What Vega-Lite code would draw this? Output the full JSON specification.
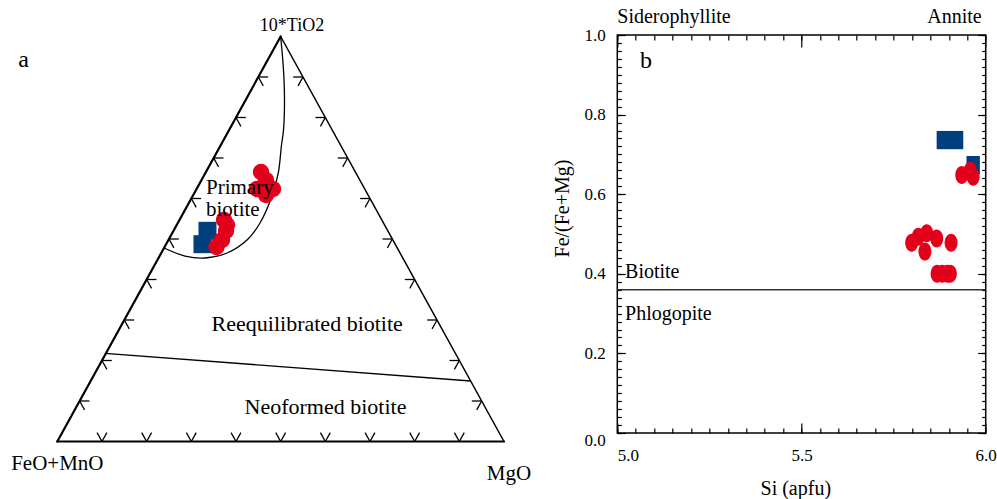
{
  "$schema": "https://vega.github.io/schema/vega-lite/v6.json",
  "background": "white",
  "padding": 0,
  "bounds": "flush",
  "spacing": 37.3,
  "config": {
    "font": "Liberation Serif, Times New Roman, DejaVu Serif, serif",
    "view": {"stroke": null},
    "text": {"font": "Liberation Serif, Times New Roman, DejaVu Serif, serif"},
    "axis": {
      "labelFont": "Liberation Serif, Times New Roman, DejaVu Serif, serif",
      "titleFont": "Liberation Serif, Times New Roman, DejaVu Serif, serif",
      "labelColor": "black",
      "titleColor": "black",
      "tickColor": "black",
      "tickWidth": 1.2,
      "domain": false,
      "grid": false,
      "titleFontWeight": "normal",
      "labelFontSize": 17,
      "titleFontSize": 20,
      "labelOverlap": false
    }
  },
  "datasets": {
    "edges": [
      {"side": "FeO+MnO-MgO", "x": 0, "y": 0, "x2": 1, "y2": 0},
      {"side": "FeO+MnO-TiO2", "x": 0, "y": 0, "x2": 0.5, "y2": 1},
      {"side": "MgO-TiO2", "x": 1, "y": 0, "x2": 0.5, "y2": 1}
    ],
    "edgeTicks": [
      {"x": 0.1, "y": 0, "x2": 0.089, "y2": 0.022}, {"x": 0.1, "y": 0, "x2": 0.111, "y2": 0.022},
      {"x": 0.2, "y": 0, "x2": 0.189, "y2": 0.022}, {"x": 0.2, "y": 0, "x2": 0.211, "y2": 0.022},
      {"x": 0.3, "y": 0, "x2": 0.289, "y2": 0.022}, {"x": 0.3, "y": 0, "x2": 0.311, "y2": 0.022},
      {"x": 0.4, "y": 0, "x2": 0.389, "y2": 0.022}, {"x": 0.4, "y": 0, "x2": 0.411, "y2": 0.022},
      {"x": 0.5, "y": 0, "x2": 0.489, "y2": 0.022}, {"x": 0.5, "y": 0, "x2": 0.511, "y2": 0.022},
      {"x": 0.6, "y": 0, "x2": 0.589, "y2": 0.022}, {"x": 0.6, "y": 0, "x2": 0.611, "y2": 0.022},
      {"x": 0.7, "y": 0, "x2": 0.689, "y2": 0.022}, {"x": 0.7, "y": 0, "x2": 0.711, "y2": 0.022},
      {"x": 0.8, "y": 0, "x2": 0.789, "y2": 0.022}, {"x": 0.8, "y": 0, "x2": 0.811, "y2": 0.022},
      {"x": 0.9, "y": 0, "x2": 0.889, "y2": 0.022}, {"x": 0.9, "y": 0, "x2": 0.911, "y2": 0.022},
      {"x": 0.05, "y": 0.1, "x2": 0.072, "y2": 0.1}, {"x": 0.05, "y": 0.1, "x2": 0.061, "y2": 0.078},
      {"x": 0.1, "y": 0.2, "x2": 0.122, "y2": 0.2}, {"x": 0.1, "y": 0.2, "x2": 0.111, "y2": 0.178},
      {"x": 0.15, "y": 0.3, "x2": 0.172, "y2": 0.3}, {"x": 0.15, "y": 0.3, "x2": 0.161, "y2": 0.278},
      {"x": 0.2, "y": 0.4, "x2": 0.222, "y2": 0.4}, {"x": 0.2, "y": 0.4, "x2": 0.211, "y2": 0.378},
      {"x": 0.25, "y": 0.5, "x2": 0.272, "y2": 0.5}, {"x": 0.25, "y": 0.5, "x2": 0.261, "y2": 0.478},
      {"x": 0.3, "y": 0.6, "x2": 0.322, "y2": 0.6}, {"x": 0.3, "y": 0.6, "x2": 0.311, "y2": 0.578},
      {"x": 0.35, "y": 0.7, "x2": 0.372, "y2": 0.7}, {"x": 0.35, "y": 0.7, "x2": 0.361, "y2": 0.678},
      {"x": 0.4, "y": 0.8, "x2": 0.422, "y2": 0.8}, {"x": 0.4, "y": 0.8, "x2": 0.411, "y2": 0.778},
      {"x": 0.45, "y": 0.9, "x2": 0.472, "y2": 0.9}, {"x": 0.45, "y": 0.9, "x2": 0.461, "y2": 0.878},
      {"x": 0.95, "y": 0.1, "x2": 0.928, "y2": 0.1}, {"x": 0.95, "y": 0.1, "x2": 0.939, "y2": 0.078},
      {"x": 0.9, "y": 0.2, "x2": 0.878, "y2": 0.2}, {"x": 0.9, "y": 0.2, "x2": 0.889, "y2": 0.178},
      {"x": 0.85, "y": 0.3, "x2": 0.828, "y2": 0.3}, {"x": 0.85, "y": 0.3, "x2": 0.839, "y2": 0.278},
      {"x": 0.8, "y": 0.4, "x2": 0.778, "y2": 0.4}, {"x": 0.8, "y": 0.4, "x2": 0.789, "y2": 0.378},
      {"x": 0.75, "y": 0.5, "x2": 0.728, "y2": 0.5}, {"x": 0.75, "y": 0.5, "x2": 0.739, "y2": 0.478},
      {"x": 0.7, "y": 0.6, "x2": 0.678, "y2": 0.6}, {"x": 0.7, "y": 0.6, "x2": 0.689, "y2": 0.578},
      {"x": 0.65, "y": 0.7, "x2": 0.628, "y2": 0.7}, {"x": 0.65, "y": 0.7, "x2": 0.639, "y2": 0.678},
      {"x": 0.6, "y": 0.8, "x2": 0.578, "y2": 0.8}, {"x": 0.6, "y": 0.8, "x2": 0.589, "y2": 0.778},
      {"x": 0.55, "y": 0.9, "x2": 0.528, "y2": 0.9}, {"x": 0.55, "y": 0.9, "x2": 0.539, "y2": 0.878}
    ],
    "divider": [
      {"x": 0.1068, "y": 0.2178, "x2": 0.9255, "y2": 0.1494}
    ],
    "primaryField": [
      {"i": 0, "x": 0.5, "y": 1.0},
      {"i": 1, "x": 0.5064, "y": 0.9173},
      {"i": 2, "x": 0.5086, "y": 0.8432},
      {"i": 3, "x": 0.5064, "y": 0.7691},
      {"i": 4, "x": 0.5019, "y": 0.7321},
      {"i": 5, "x": 0.4947, "y": 0.663},
      {"i": 6, "x": 0.4806, "y": 0.6062},
      {"i": 7, "x": 0.4538, "y": 0.5395},
      {"i": 8, "x": 0.4247, "y": 0.4975},
      {"i": 9, "x": 0.3799, "y": 0.4654},
      {"i": 10, "x": 0.3306, "y": 0.4531},
      {"i": 11, "x": 0.2859, "y": 0.458},
      {"i": 12, "x": 0.2389, "y": 0.4778}
    ],
    "ternary": [
      {"suite": "B", "x": 0.3362, "y": 0.5202},
      {"suite": "B", "x": 0.325, "y": 0.4872},
      {"suite": "A", "x": 0.456, "y": 0.6654},
      {"suite": "A", "x": 0.4672, "y": 0.6457},
      {"suite": "A", "x": 0.4829, "y": 0.6235},
      {"suite": "A", "x": 0.447, "y": 0.6235},
      {"suite": "A", "x": 0.4672, "y": 0.6086},
      {"suite": "A", "x": 0.3732, "y": 0.5469},
      {"suite": "A", "x": 0.3799, "y": 0.5346},
      {"suite": "A", "x": 0.3777, "y": 0.5198},
      {"suite": "A", "x": 0.3687, "y": 0.4975},
      {"suite": "A", "x": 0.3564, "y": 0.4802}
    ],
    "ternaryLabels": [
      {"label": "10*TiO2", "x": 0.5254, "y": 1.0143},
      {"label": "FeO+MnO", "x": 0.0, "y": -0.0704},
      {"label": "MgO", "x": 1.0112, "y": -0.0951},
      {"label": "Reequilibrated biotite", "x": 0.5595, "y": 0.2728},
      {"label": "Neoformed biotite", "x": 0.6004, "y": 0.0679},
      {"label": "Primary", "x": 0.3329, "y": 0.6111},
      {"label": "biotite", "x": 0.3329, "y": 0.5568},
      {"label": "a", "x": -0.0873, "y": 0.9254}
    ],
    "mica": [
      {"suite": "B", "si": 5.885, "fe": 0.736},
      {"suite": "B", "si": 5.921, "fe": 0.736},
      {"suite": "B", "si": 5.966, "fe": 0.673},
      {"suite": "A", "si": 5.935, "fe": 0.648},
      {"suite": "A", "si": 5.958, "fe": 0.659},
      {"suite": "A", "si": 5.966, "fe": 0.644},
      {"suite": "A", "si": 5.799, "fe": 0.478},
      {"suite": "A", "si": 5.817, "fe": 0.493},
      {"suite": "A", "si": 5.84, "fe": 0.502},
      {"suite": "A", "si": 5.835, "fe": 0.456},
      {"suite": "A", "si": 5.867, "fe": 0.489},
      {"suite": "A", "si": 5.906, "fe": 0.478},
      {"suite": "A", "si": 5.868, "fe": 0.4},
      {"suite": "A", "si": 5.882, "fe": 0.4},
      {"suite": "A", "si": 5.896, "fe": 0.4},
      {"suite": "A", "si": 5.904, "fe": 0.4}
    ],
    "micaLabels": [
      {"label": "Siderophyllite", "si": 5.0, "fe": 1.0294},
      {"label": "Annite", "si": 5.989, "fe": 1.0294},
      {"label": "b", "si": 5.0616, "fe": 0.9163},
      {"label": "Biotite", "si": 5.021, "fe": 0.389},
      {"label": "Phlogopite", "si": 5.021, "fe": 0.284}
    ]
  },
  "hconcat": [
    {
      "width": 580,
      "height": 499,
      "encoding": {
        "x": {"field": "x", "type": "quantitative", "scale": {"domain": [-0.12827, 1.17014], "nice": false, "zero": false}, "axis": null},
        "y": {"field": "y", "type": "quantitative", "scale": {"domain": [-0.14198, 1.09012], "nice": false, "zero": false}, "axis": null}
      },
      "layer": [
        {
          "data": {"name": "edges"},
          "transform": [{"filter": "datum.side != 'MgO-TiO2'"}],
          "mark": {"type": "rule", "color": "black", "strokeWidth": 2.2, "strokeCap": "round"},
          "encoding": {"x2": {"field": "x2"}, "y2": {"field": "y2"}}
        },
        {
          "data": {"name": "edges"},
          "transform": [{"filter": "datum.side == 'MgO-TiO2'"}],
          "mark": {"type": "rule", "color": "black", "strokeWidth": 1.5, "strokeCap": "round"},
          "encoding": {"x2": {"field": "x2"}, "y2": {"field": "y2"}}
        },
        {
          "data": {"name": "edgeTicks"},
          "mark": {"type": "rule", "color": "black", "strokeWidth": 1.3},
          "encoding": {"x2": {"field": "x2"}, "y2": {"field": "y2"}}
        },
        {
          "data": {"name": "divider"},
          "mark": {"type": "rule", "color": "black", "strokeWidth": 1.3},
          "encoding": {"x2": {"field": "x2"}, "y2": {"field": "y2"}}
        },
        {
          "data": {"name": "primaryField"},
          "mark": {"type": "line", "color": "black", "strokeWidth": 1.3, "interpolate": "catmull-rom"},
          "encoding": {"order": {"field": "i", "type": "quantitative"}}
        },
        {
          "data": {"name": "ternary"},
          "transform": [{"filter": "datum.suite == 'B'"}],
          "mark": {"type": "point", "shape": "square", "filled": true, "opacity": 1, "color": "#003F7D", "size": 324}
        },
        {
          "data": {"name": "ternary"},
          "transform": [{"filter": "datum.suite == 'A'"}],
          "mark": {"type": "point", "shape": "circle", "filled": true, "opacity": 1, "color": "#E3001B", "size": 270}
        },
        {
          "data": {"name": "ternaryLabels"},
          "transform": [{"filter": {"field": "label", "oneOf": ["10*TiO2"]}}],
          "mark": {"type": "text", "align": "center", "baseline": "alphabetic", "fontSize": 18, "color": "black"},
          "encoding": {"text": {"field": "label"}}
        },
        {
          "data": {"name": "ternaryLabels"},
          "transform": [{"filter": {"field": "label", "oneOf": ["FeO+MnO", "MgO"]}}],
          "mark": {"type": "text", "align": "center", "baseline": "alphabetic", "fontSize": 21, "color": "black"},
          "encoding": {"text": {"field": "label"}}
        },
        {
          "data": {"name": "ternaryLabels"},
          "transform": [{"filter": {"field": "label", "oneOf": ["Reequilibrated biotite", "Neoformed biotite"]}}],
          "mark": {"type": "text", "align": "center", "baseline": "alphabetic", "fontSize": 22, "color": "black"},
          "encoding": {"text": {"field": "label"}}
        },
        {
          "data": {"name": "ternaryLabels"},
          "transform": [{"filter": {"field": "label", "oneOf": ["Primary", "biotite"]}}],
          "mark": {"type": "text", "align": "left", "baseline": "alphabetic", "fontSize": 21, "color": "black"},
          "encoding": {"text": {"field": "label"}}
        },
        {
          "data": {"name": "ternaryLabels"},
          "transform": [{"filter": {"field": "label", "oneOf": ["a"]}}],
          "mark": {"type": "text", "align": "left", "baseline": "alphabetic", "fontSize": 24, "color": "black"},
          "encoding": {"text": {"field": "label"}}
        }
      ]
    },
    {
      "width": 368.4,
      "height": 499,
      "resolve": {"axis": {"x": "independent", "y": "independent"}},
      "layer": [
        {
          "data": {"values": [{"si": 5, "si2": 6, "fe": 0, "fe2": 1}]},
          "mark": {"type": "rect", "fill": "white", "fillOpacity": 0, "stroke": "black", "strokeWidth": 1.5},
          "encoding": {
            "x": {"field": "si", "type": "quantitative", "scale": {"domain": [5, 6], "nice": false, "zero": false},
              "axis": {"orient": "bottom", "offset": -66, "values": [5, 5.5, 6], "format": ".1f", "tickSize": -10, "labelPadding": 24,
                "labelAlign": {"condition": {"test": "datum.value === 5", "value": "left"}, "value": "center"},
                "title": "Si (apfu)", "titleX": 178, "titleY": 61, "titleAlign": "center", "titleBaseline": "alphabetic"}},
            "x2": {"field": "si2"},
            "y": {"field": "fe", "type": "quantitative", "scale": {"domain": [-0.16583, 1.08794], "nice": false, "zero": false},
              "axis": {"orient": "left", "values": [0, 0.2, 0.4, 0.6, 0.8, 1], "format": ".1f", "tickSize": -8, "labelPadding": 20,
                "labelBaseline": {"condition": {"test": "datum.value === 0", "value": "top"}, "value": "middle"},
                "title": "Fe/(Fe+Mg)", "titleX": -49, "titleY": 208, "titleAngle": -90, "titleAlign": "center", "titleBaseline": "alphabetic"}},
            "y2": {"field": "fe2"}
          }
        },
        {
          "data": {"values": [{"si": 5, "si2": 6, "fe": 0.36}]},
          "mark": {"type": "rule", "color": "#333333", "strokeWidth": 1.5},
          "encoding": {
            "x": {"field": "si", "type": "quantitative", "scale": {"domain": [5, 6], "nice": false, "zero": false},
              "axis": {"orient": "bottom", "offset": -66, "values": [5, 5.05, 5.1, 5.15, 5.2, 5.25, 5.3, 5.35, 5.4, 5.45, 5.5, 5.55, 5.6, 5.65, 5.7, 5.75, 5.8, 5.85, 5.9, 5.95, 6], "tickSize": -5, "labels": false, "title": null}},
            "x2": {"field": "si2"},
            "y": {"field": "fe", "type": "quantitative", "scale": {"domain": [-0.16583, 1.08794], "nice": false, "zero": false},
              "axis": {"orient": "left", "values": [0, 0.02, 0.04, 0.06, 0.08, 0.1, 0.12, 0.14, 0.16, 0.18, 0.2, 0.22, 0.24, 0.26, 0.28, 0.3, 0.32, 0.34, 0.36, 0.38, 0.4, 0.42, 0.44, 0.46, 0.48, 0.5, 0.52, 0.54, 0.56, 0.58, 0.6, 0.62, 0.64, 0.66, 0.68, 0.7, 0.72, 0.74, 0.76, 0.78, 0.8, 0.82, 0.84, 0.86, 0.88, 0.9, 0.92, 0.94, 0.96, 0.98, 1], "tickSize": -4, "labels": false, "title": null}}
          }
        },
        {
          "data": {"name": "mica"},
          "transform": [{"filter": "datum.suite == 'B'"}],
          "mark": {"type": "point", "shape": "M-0.73,-1H0.73V1H-0.73Z", "filled": true, "opacity": 1, "color": "#003F7D", "size": 335},
          "encoding": {
            "x": {"field": "si", "type": "quantitative", "scale": {"domain": [5, 6], "nice": false, "zero": false},
              "axis": {"orient": "top", "offset": -35, "values": [5, 5.5, 6], "tickSize": -12, "labels": false, "title": null}},
            "y": {"field": "fe", "type": "quantitative", "scale": {"domain": [-0.16583, 1.08794], "nice": false, "zero": false},
              "axis": {"orient": "right", "values": [0, 0.2, 0.4, 0.6, 0.8, 1], "tickSize": -8, "labels": false, "title": null}}
          }
        },
        {
          "data": {"name": "mica"},
          "transform": [{"filter": "datum.suite == 'A'"}],
          "mark": {"type": "point", "shape": "M0,-1A0.72,1,0,1,1,0,1A0.72,1,0,1,1,0,-1Z", "filled": true, "opacity": 1, "color": "#E3001B", "size": 324},
          "encoding": {
            "x": {"field": "si", "type": "quantitative", "scale": {"domain": [5, 6], "nice": false, "zero": false},
              "axis": {"orient": "top", "offset": -35, "values": [5, 5.05, 5.1, 5.15, 5.2, 5.25, 5.3, 5.35, 5.4, 5.45, 5.5, 5.55, 5.6, 5.65, 5.7, 5.75, 5.8, 5.85, 5.9, 5.95, 6], "tickSize": -5, "labels": false, "title": null}},
            "y": {"field": "fe", "type": "quantitative", "scale": {"domain": [-0.16583, 1.08794], "nice": false, "zero": false},
              "axis": {"orient": "right", "values": [0, 0.02, 0.04, 0.06, 0.08, 0.1, 0.12, 0.14, 0.16, 0.18, 0.2, 0.22, 0.24, 0.26, 0.28, 0.3, 0.32, 0.34, 0.36, 0.38, 0.4, 0.42, 0.44, 0.46, 0.48, 0.5, 0.52, 0.54, 0.56, 0.58, 0.6, 0.62, 0.64, 0.66, 0.68, 0.7, 0.72, 0.74, 0.76, 0.78, 0.8, 0.82, 0.84, 0.86, 0.88, 0.9, 0.92, 0.94, 0.96, 0.98, 1], "tickSize": -4, "labels": false, "title": null}}
          }
        },
        {
          "data": {"name": "micaLabels"},
          "transform": [{"filter": {"field": "label", "oneOf": ["Siderophyllite", "Biotite", "Phlogopite"]}}],
          "mark": {"type": "text", "align": "left", "baseline": "alphabetic", "fontSize": 20, "color": "black"},
          "encoding": {
            "x": {"field": "si", "type": "quantitative", "scale": {"domain": [5, 6], "nice": false, "zero": false}, "axis": null},
            "y": {"field": "fe", "type": "quantitative", "scale": {"domain": [-0.16583, 1.08794], "nice": false, "zero": false}, "axis": null},
            "text": {"field": "label"}
          }
        },
        {
          "data": {"name": "micaLabels"},
          "transform": [{"filter": {"field": "label", "oneOf": ["Annite"]}}],
          "mark": {"type": "text", "align": "right", "baseline": "alphabetic", "fontSize": 20, "color": "black"},
          "encoding": {
            "x": {"field": "si", "type": "quantitative", "scale": {"domain": [5, 6], "nice": false, "zero": false}, "axis": null},
            "y": {"field": "fe", "type": "quantitative", "scale": {"domain": [-0.16583, 1.08794], "nice": false, "zero": false}, "axis": null},
            "text": {"field": "label"}
          }
        },
        {
          "data": {"name": "micaLabels"},
          "transform": [{"filter": {"field": "label", "oneOf": ["b"]}}],
          "mark": {"type": "text", "align": "left", "baseline": "alphabetic", "fontSize": 24, "color": "black"},
          "encoding": {
            "x": {"field": "si", "type": "quantitative", "scale": {"domain": [5, 6], "nice": false, "zero": false}, "axis": null},
            "y": {"field": "fe", "type": "quantitative", "scale": {"domain": [-0.16583, 1.08794], "nice": false, "zero": false}, "axis": null},
            "text": {"field": "label"}
          }
        }
      ]
    }
  ]
}
